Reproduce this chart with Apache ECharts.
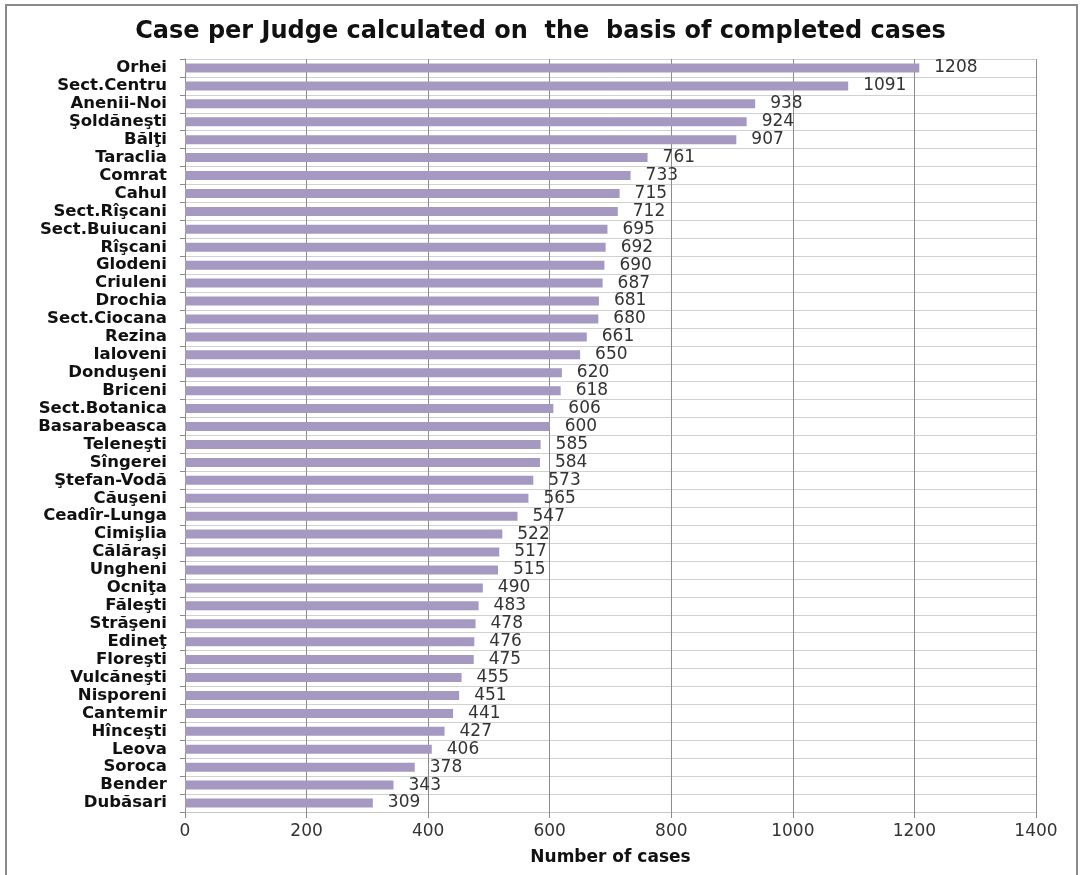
<!DOCTYPE html>
<html>
<head>
<meta charset="utf-8">
<script src="https://cdn.jsdelivr.net/npm/echarts@6/dist/echarts.min.js"></script>
<style>
  html, body { margin: 0; padding: 0; background: #fff; }
  #chart { width: 1081px; height: 875px; }
</style>
</head>
<body>
<div id="chart"></div>
<script>
// courts, top to bottom as in the picture
const courts = [
  'Orhei', 'Sect.Centru', 'Anenii-Noi', 'Şoldăneşti', 'Bălţi', 'Taraclia', 'Comrat',
  'Cahul', 'Sect.Rîşcani', 'Sect.Buiucani', 'Rîşcani', 'Glodeni', 'Criuleni', 'Drochia',
  'Sect.Ciocana', 'Rezina', 'Ialoveni', 'Donduşeni', 'Briceni', 'Sect.Botanica',
  'Basarabeasca', 'Teleneşti', 'Sîngerei', 'Ştefan-Vodă', 'Căuşeni', 'Ceadîr-Lunga',
  'Cimişlia', 'Călăraşi', 'Ungheni', 'Ocniţa', 'Făleşti', 'Străşeni', 'Edineţ',
  'Floreşti', 'Vulcăneşti', 'Nisporeni', 'Cantemir', 'Hînceşti', 'Leova', 'Soroca',
  'Bender', 'Dubăsari'
]
const casesPerJudge = [
  1208, 1091, 938, 924, 907, 761, 733,
  715, 712, 695, 692, 690, 687, 681,
  680, 661, 650, 620, 618, 606,
  600, 585, 584, 573, 565, 547,
  522, 517, 515, 490, 483, 478, 476,
  475, 455, 451, 441, 427, 406, 378,
  343, 309
]
const xMin = 0
const xMax = 1400
const xStep = 200

const myChart = echarts.init(document.getElementById('chart'))

const option = {
  backgroundColor: '#fff',
  animation: false,
  title: {
    text: 'Case per Judge calculated on  the  basis of completed cases',
    left: 'center',
    top: 15,
    textStyle: {
      fontFamily: 'DejaVu Sans',
      fontWeight: 'bold',
      fontSize: 24,
      color: '#111'
    }
  },
  graphic: [
    // outer frame of the chart (no bottom edge visible)
    { type: 'polyline', shape: { points: [[6, 880], [6, 5], [1077, 5], [1077, 880]] },
      style: { stroke: '#8a8a8a', lineWidth: 2, fill: null }, silent: true }
  ],
  grid: {
    left: 185,
    right: 45,
    top: 59,
    bottom: 63,
    containLabel: false
  },
  xAxis: {
    type: 'value',
    min: xMin,
    max: xMax,
    interval: xStep,
    name: 'Number of cases',
    nameLocation: 'middle',
    nameGap: 37,
    nameTextStyle: {
      fontFamily: 'DejaVu Sans',
      fontWeight: 'bold',
      fontSize: 17,
      color: '#111'
    },
    axisLine: { show: true, lineStyle: { color: '#c8c8c8', width: 1 } },
    axisTick: { show: true, length: 6, lineStyle: { color: '#8c8c8c' } },
    axisLabel: {
      margin: 11,
      fontFamily: 'DejaVu Sans',
      fontSize: 17,
      color: '#333',
      formatter: (v) => String(v)
    },
    splitLine: { show: true, lineStyle: { color: '#8c8c8c', width: 1 } }
  },
  yAxis: {
    type: 'category',
    data: courts,
    inverse: true,
    axisLine: { show: true, lineStyle: { color: '#8c8c8c', width: 1 } },
    axisTick: { show: true, interval: 0, length: 5, lineStyle: { color: '#8c8c8c' } },
    axisLabel: {
      interval: 0,
      margin: 18,
      fontFamily: 'DejaVu Sans',
      fontWeight: 'bold',
      fontSize: 16.5,
      color: '#111'
    },
    splitLine: { show: true, interval: 0, lineStyle: { color: '#d0d0d0', width: 1 } }
  },
  series: [{
    type: 'bar',
    data: casesPerJudge,
    barWidth: 9,
    itemStyle: { color: '#a699c1' },
    label: {
      show: true,
      position: 'right',
      distance: 15,
      fontFamily: 'DejaVu Sans',
      fontSize: 17,
      color: '#333'
    }
  }]
}

myChart.setOption(option)
</script>
</body>
</html>
